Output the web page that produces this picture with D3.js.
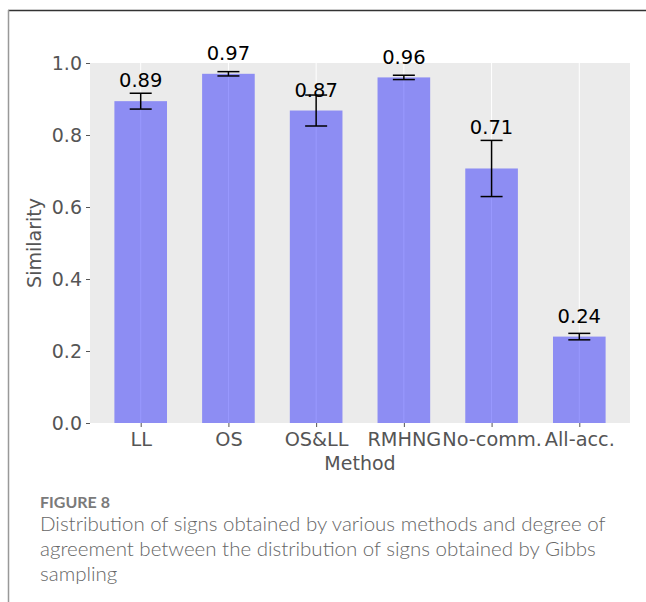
<!DOCTYPE html>
<html>
<head>
<meta charset="utf-8">
<script src="https://cdn.jsdelivr.net/npm/d3@7"></script>
<style>
  html, body { margin: 0; padding: 0; background: #fff; }
  svg { display: block; }
</style>
</head>
<body>
<script>
// Similarity of each method's sign distribution to the Gibbs sampling result
const methods = ["LL", "OS", "OS&LL", "RMHNG", "No-comm.", "All-acc."];
const similarity = [0.894, 0.970, 0.868, 0.960, 0.707, 0.240];
const errorHalf = [0.022, 0.006, 0.043, 0.006, 0.078, 0.009];
const yTicks = [0.0, 0.2, 0.4, 0.6, 0.8, 1.0];
// methods whose value label is lifted clear of the error bar
const labelAboveError = ["No-comm."];

const captionTitle = "FIGURE 8";
const captionLines = [
  "Distribution of signs obtained by various methods and degree of",
  "agreement between the distribution of signs obtained by Gibbs",
  "sampling"
];

const W = 646, H = 602;
const plot = { left: 90, right: 630, top: 63, bottom: 423 };

const svg = d3.select("body").append("svg")
  .attr("width", W).attr("height", H);

// figure frame
svg.append("line").attr("x1", 8).attr("x2", W).attr("y1", 10.5).attr("y2", 10.5)
  .attr("stroke", "#333").attr("stroke-width", 1.5);
svg.append("line").attr("x1", 8.5).attr("x2", 8.5).attr("y1", 10).attr("y2", H)
  .attr("stroke", "#999").attr("stroke-width", 1.5);

const x = d3.scaleLinear().domain([-0.578, methods.length - 1 + 0.578])
  .range([plot.left, plot.right]);
const y = d3.scaleLinear().domain([0, 1]).range([plot.bottom, plot.top]);
const barW = x(0.6) - x(0);

// plot background
svg.append("rect")
  .attr("x", plot.left).attr("y", plot.top)
  .attr("width", plot.right - plot.left).attr("height", plot.bottom - plot.top)
  .attr("fill", "#EBEBEB");

// vertical grid at category centres
svg.append("g").selectAll("line").data(methods).join("line")
  .attr("x1", (d, i) => x(i)).attr("x2", (d, i) => x(i))
  .attr("y1", plot.top).attr("y2", plot.bottom)
  .attr("stroke", "#fff").attr("stroke-width", 1);

// bars
svg.append("g").selectAll("rect").data(similarity).join("rect")
  .attr("x", (d, i) => x(i) - barW / 2)
  .attr("y", d => y(d))
  .attr("width", barW)
  .attr("height", d => y(0) - y(d))
  .attr("fill", "rgb(0,0,255)").attr("fill-opacity", 0.4);

// error bars
const capHalf = 11;
const eb = svg.append("g").attr("stroke", "#000").attr("stroke-width", 1.5);
similarity.forEach((v, i) => {
  const lo = y(v - errorHalf[i]), hi = y(v + errorHalf[i]), cx = x(i);
  eb.append("line").attr("x1", cx).attr("x2", cx).attr("y1", lo).attr("y2", hi);
  eb.append("line").attr("x1", cx - capHalf).attr("x2", cx + capHalf).attr("y1", lo).attr("y2", lo);
  eb.append("line").attr("x1", cx - capHalf).attr("x2", cx + capHalf).attr("y1", hi).attr("y2", hi);
});

// value labels
svg.append("g").selectAll("text").data(similarity).join("text")
  .attr("x", (d, i) => x(i))
  .attr("y", (d, i) => labelAboveError.includes(methods[i])
    ? y(d + errorHalf[i] + 0.019)
    : y(d + 0.038))
  .attr("text-anchor", "middle")
  .attr("font-family", "DejaVu Sans")
  .attr("font-size", 19.5)
  .attr("fill", "#000")
  .text(d => d3.format(".2f")(d));

// y axis
const yAxis = d3.axisLeft(y).tickValues(yTicks).tickFormat(d3.format(".1f"))
  .tickSize(4).tickPadding(4);
const gy = svg.append("g").attr("transform", `translate(${plot.left},0)`).call(yAxis);
gy.select(".domain").remove();
gy.selectAll(".tick line").attr("stroke", "#555");
gy.selectAll(".tick text").attr("font-family", "DejaVu Sans").attr("font-size", 19).attr("fill", "#555");

// x axis
const xAxis = d3.axisBottom(x).tickValues(d3.range(methods.length))
  .tickFormat(i => methods[i]).tickSize(4).tickPadding(5);
const gx = svg.append("g").attr("transform", `translate(0,${plot.bottom})`).call(xAxis);
gx.select(".domain").remove();
gx.selectAll(".tick line").attr("stroke", "#555");
gx.selectAll(".tick text").attr("font-family", "DejaVu Sans").attr("font-size", 19.3).attr("fill", "#555");

// axis titles
svg.append("text")
  .attr("x", (plot.left + plot.right) / 2).attr("y", 470)
  .attr("text-anchor", "middle")
  .attr("font-family", "DejaVu Sans").attr("font-size", 19).attr("fill", "#555")
  .text("Method");
svg.append("text")
  .attr("transform", `translate(41,${(plot.top + plot.bottom) / 2}) rotate(-90)`)
  .attr("text-anchor", "middle")
  .attr("font-family", "DejaVu Sans").attr("font-size", 19).attr("fill", "#555")
  .text("Similarity");

// caption
svg.append("text")
  .attr("x", 40).attr("y", 507.5)
  .attr("font-family", "Lato").attr("font-size", 16).attr("font-weight", 700)
  .attr("fill", "#7a7a7a")
  .text(captionTitle);
svg.append("g").selectAll("text").data(captionLines).join("text")
  .attr("x", 40).attr("y", (d, i) => 531 + i * 25)
  .attr("font-family", "Lato").attr("font-size", 20.5).attr("font-weight", 300)
  .attr("fill", "#666")
  .text(d => d);
</script>
</body>
</html>
